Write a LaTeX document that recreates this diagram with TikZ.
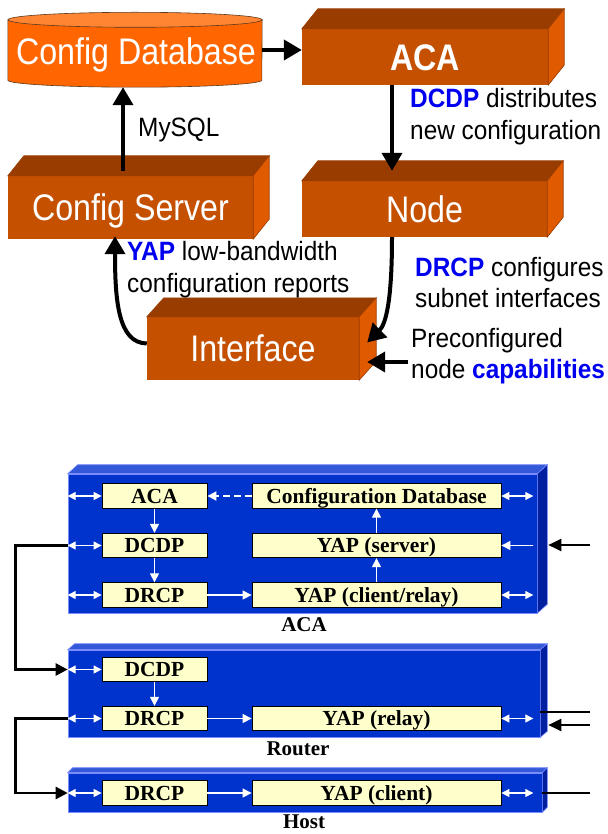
\documentclass[tikz,border=0pt]{standalone}
\usepackage{fontspec}
\usepackage{graphicx}
\setmainfont{Liberation Serif}
\newfontfamily\arialf{Liberation Sans}
\usetikzlibrary{arrows.meta,calc}
\definecolor{ofront}{HTML}{C45000}
\definecolor{otop}{HTML}{983C00}
\definecolor{oside}{HTML}{E05A00}
\definecolor{cylbody}{HTML}{FF6600}
\definecolor{cyltop}{HTML}{FF8533}
\definecolor{cyledge}{HTML}{5A3A20}
\definecolor{bfront}{HTML}{0032CC}
\definecolor{btop}{HTML}{3358D8}
\definecolor{bside}{HTML}{0020A0}
\definecolor{bedge}{HTML}{7A8CFF}
\definecolor{ylw}{HTML}{FFFFCC}
\definecolor{lblue}{HTML}{0000F0}
\newcommand\bigtxt[1]{\scalebox{0.87}[1]{#1}}
\newcommand\smtxt[1]{\scalebox{0.92}[1]{#1}}
\newcommand\bl[1]{\textcolor{lblue}{\bfseries #1}}
% 3D faces: name, dx, dy(up), top colour, side colour, edge
\newcommand\threed[6]{%
  \filldraw[fill=#4,draw=#6,line width=0.6pt] (#1.north west) -- ++(#2,-#3) -- ($(#1.north east)+(#2,-#3)$) -- (#1.north east) -- cycle;
  \filldraw[fill=#5,draw=#6,line width=0.6pt] (#1.north east) -- ++(#2,-#3) -- ($(#1.south east)+(#2,-#3)$) -- (#1.south east) -- cycle;}
\begin{document}
\begin{tikzpicture}[x=1pt,y=-1pt,
  oface/.style={fill=ofront, draw=none, inner sep=0pt, text=white,
     font=\arialf\fontsize{37}{40}\selectfont, text height=26.5pt, text depth=0pt},
  lbl/.style={anchor=base west, inner sep=0pt, font=\arialf\fontsize{26.5}{32}\selectfont},
  bigarrow/.style={line width=4pt, -{Triangle[length=18pt,width=20pt]}},
  bface/.style={fill=bfront, draw=bedge, line width=0.6pt, inner sep=0pt},
  ibox/.style={fill=ylw, draw=black, line width=0.8pt, inner sep=0pt, minimum height=24.5pt,
     font=\bfseries\fontsize{21.5}{24}\selectfont, text height=14.2pt, text depth=0pt},
  nbox/.style={ibox, minimum width=105pt},
  wbox/.style={ibox, minimum width=249pt},
  blbl/.style={anchor=base, inner sep=0pt, font=\bfseries\fontsize{21}{24}\selectfont},
  wharrow/.style={draw=white, line width=1.2pt, -{Triangle[length=9pt,width=9pt]}},
  whdbl/.style={draw=white, line width=1.2pt, {Triangle[length=8pt,width=8pt]}-{Triangle[length=8pt,width=8pt]}},
  conn/.style={line width=2.5pt, -{Triangle[length=12pt,width=12pt]}},
  extline/.style={line width=2.2pt},
  extarrow/.style={line width=2.2pt, -{Triangle[length=13pt,width=12pt]}}
]
\useasboundingbox (0,0) rectangle (607,834);

% ---------------- top part ----------------
\node[inner sep=0pt, minimum width=254pt, minimum height=60pt] (cdb) at (135,50) {};
\filldraw[fill=cylbody, draw=cyledge, line width=0.6pt] (cdb.north west) -- (cdb.south west)
   arc[start angle=180, end angle=360, x radius=127pt, y radius=7pt] -- (cdb.north east) -- cycle;
\filldraw[fill=cyltop, draw=cyledge, line width=0.6pt] (cdb.north) ellipse [x radius=127pt, y radius=7.5pt];
\node[anchor=base, inner sep=0pt, text=white, font=\arialf\fontsize{37}{40}\selectfont] (cdbtxt) at (136,65) {\bigtxt{Config Database}};

\node[oface, minimum width=246pt, minimum height=56pt] (aca) at (425,57) {\bigtxt{\bfseries ACA}};
\threed{aca}{16}{20}{otop}{oside}{otop}
\node[oface, minimum width=245pt, minimum height=63pt] (cs) at (130.5,207.5) {\bigtxt{Config Server}};
\threed{cs}{16}{20}{otop}{oside}{otop}
\node[oface, minimum width=245pt, minimum height=56pt] (node) at (424.5,209) {\bigtxt{Node}};
\threed{node}{16}{20}{otop}{oside}{otop}
\node[oface, minimum width=212pt, minimum height=63pt] (intf) at (253,348.5) {\bigtxt{Interface}};
\threed{intf}{17}{19}{otop}{oside}{otop}

\node[lbl] (mysql) at (138,137) {\smtxt{MySQL}};
\node[lbl] (dcdpA) at (410,108) {\smtxt{\bl{DCDP} distributes}};
\node[lbl] (dcdpB) at (410,140) {\smtxt{new configuration}};
\node[lbl] (yapA) at (127,260) {\smtxt{\bl{YAP} low-bandwidth}};
\node[lbl] (yapB) at (127,292) {\smtxt{configuration reports}};
\node[lbl] (drcpA) at (415,276) {\smtxt{\bl{DRCP} configures}};
\node[lbl] (drcpB) at (415,307) {\smtxt{subnet interfaces}};
\node[lbl] (preA) at (411,347) {\smtxt{Preconfigured}};
\node[lbl] (preB) at (411,378) {\smtxt{node \bl{capabilities}}};

\draw[bigarrow] (cdb.east) -- (cdb.east -| aca.west);
\draw[bigarrow] ($(cs.north -| 123,0)+(0,-5)$) -- ($(cdb.south -| 123,0)+(0,7)$);
\draw[bigarrow] (aca.south -| 392,0) -- ($(node.north -| 392,0)+(0,-10)$);
\draw[bigarrow] (node.south -| 392,0) .. controls (392,300) and (386,324) .. ($(intf.east)+(8,-6)$);
\draw[bigarrow] ($(intf.west)+(0,-5)$) .. controls (118,343) and (115,300) .. ($(cs.south -| 115,0)+(0,-3)$);
\coordinate (prein) at (408,362);
\draw[bigarrow] (prein) -- ($(intf.east |- prein)+(8,0)$);

% ---------------- bottom part ----------------
% ACA box
\node[bface, minimum width=469pt, minimum height=139pt] (acabox) at (302.5,543.5) {};
\threed{acabox}{10}{9}{btop}{bside}{bedge}
\node[nbox] (a1) at (154.5,496) {ACA};
\node[nbox] (a2) at (154.5,545.5) {DCDP};
\node[nbox] (a3) at (154.5,595) {DRCP};
\node[wbox] (c1) at (376.5,496) {Configuration Database};
\node[wbox] (c2) at (376.5,545.5) {YAP (server)};
\node[wbox] (c3) at (376.5,595) {YAP (client/relay)};
\node[blbl] (acalbl) at (304,631) {ACA};

\draw[whdbl] (acabox.west |- a1) -- (a1.west);
\draw[whdbl] (acabox.west |- a2) -- (a2.west);
\draw[whdbl] (acabox.west |- a3) -- (a3.west);
\draw[whdbl] (c1.east) -- ($(acabox.east |- c1)+(-4,0)$);
\draw[wharrow] ($(acabox.east |- c2)+(-4,0)$) -- (c2.east);
\draw[whdbl] (c3.east) -- ($(acabox.east |- c3)+(-4,0)$);
\draw[wharrow, line width=2pt, dash pattern=on 7pt off 4pt] (c1.west) -- (a1.east);
\draw[wharrow] (a1.south) -- (a2.north);
\draw[wharrow] (a2.south) -- (a3.north);
\draw[wharrow] (a3.east) -- (c3.west);
\draw[wharrow] (c3.north) -- (c2.south);
\draw[wharrow] (c2.north) -- (c1.south);
\coordinate (ext1) at (590,545);
\draw[extarrow] (ext1) -- ($(acabox.east |- ext1)+(11,0)$);

% Router box
\node[bface, minimum width=472pt, minimum height=87pt] (rbox) at (304,693.5) {};
\threed{rbox}{7}{6}{btop}{bside}{bedge}
\node[nbox] (r1) at (154.5,669.5) {DCDP};
\node[nbox] (r2) at (154.5,718.5) {DRCP};
\node[wbox] (r3) at (376.5,718.5) {YAP (relay)};
\node[blbl] (rlbl) at (298,755) {Router};
\draw[whdbl] (rbox.west |- r1) -- (r1.west);
\draw[whdbl] (rbox.west |- r2) -- (r2.west);
\draw[whdbl] (r3.east) -- ($(rbox.east |- r3)+(-7,0)$);
\draw[wharrow] (r1.south) -- (r2.north);
\draw[wharrow] (r2.east) -- (r3.west);
\coordinate (ext2) at (590,712);
\coordinate (ext3) at (590,725);
\draw[extline] (ext2) -- (rbox.east |- ext2);
\draw[extarrow] (ext3) -- ($(rbox.east |- ext3)+(8,0)$);

% Host box
\node[bface, minimum width=474pt, minimum height=39pt] (hbox) at (305,792.5) {};
\threed{hbox}{5}{5}{btop}{bside}{bedge}
\node[nbox] (h1) at (154.5,793) {DRCP};
\node[wbox] (h2) at (376.5,793) {YAP (client)};
\node[blbl] (hlbl) at (304,828) {Host};
\draw[whdbl] (hbox.west |- h1) -- (h1.west);
\draw[whdbl] (h2.east) -- ($(hbox.east |- h2)+(-9,0)$);
\draw[wharrow] (h1.east) -- (h2.west);
\coordinate (ext4) at (590,793);
\draw[extline] (ext4) -- (hbox.east |- ext4);

% left connectors
\draw[conn] (acabox.west |- a2) -- ++(-52,0) |- (rbox.west |- r1);
\draw[conn] (rbox.west |- r2) -- ++(-52,0) |- (hbox.west |- h1);
\end{tikzpicture}
\end{document}
